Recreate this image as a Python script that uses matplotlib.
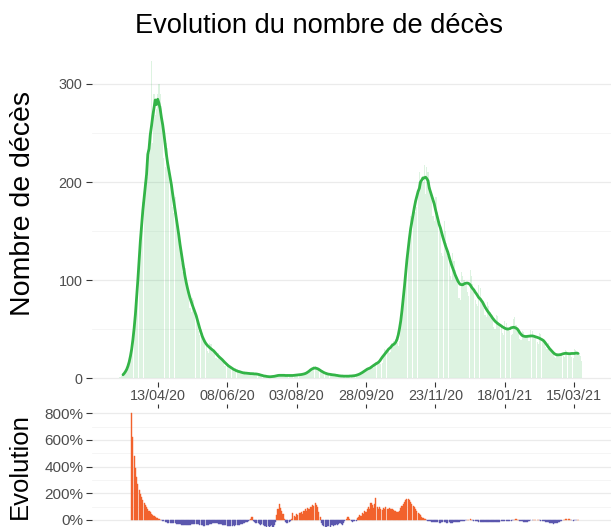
import numpy as np
import pandas as pd
import matplotlib
matplotlib.use("Agg")
import matplotlib.pyplot as plt
import matplotlib.dates as mdates

plt.rcParams['font.family'] = ['Liberation Sans', 'DejaVu Sans']

# ---------------- data ----------------
title = "Evolution du nombre de décès"
ylabel_top = "Nombre de décès"
ylabel_bottom = "Evolution"

# daily deaths, one row per week, starting Friday 2020-03-13
deaths_start = "2020-03-13"
deaths = [
    1, 1, 2, 3, 4, 6, 8,
    11, 14, 18, 26, 34, 47, 58,
    80, 96, 115, 148, 160, 180, 200,
    190, 205, 205, 230, 245, 323, 240,
    290, 268, 275, 290, 300, 290, 278,
    262, 225, 215, 240, 235, 215, 205,
    200, 175, 168, 185, 170, 158, 145,
    138, 118, 108, 118, 112, 98, 90,
    85, 72, 68, 82, 80, 70, 64,
    60, 48, 44, 50, 46, 40, 36,
    34, 28, 26, 36, 35, 31, 28,
    26, 21, 20, 26, 24, 21, 19,
    18, 13, 12, 16, 15, 12, 11,
    10, 7, 6, 10, 9, 7, 7,
    6, 4, 4, 7, 6, 5, 5,
    6, 3, 3, 6, 5, 5, 4,
    5, 3, 2, 4, 3, 2, 2,
    2, 1, 1, 2, 2, 1, 2,
    3, 2, 2, 4, 4, 3, 3,
    3, 2, 2, 4, 3, 3, 3,
    3, 2, 2, 4, 4, 4, 4,
    4, 3, 3, 5, 6, 6, 7,
    8, 9, 9, 13, 12, 11, 10,
    9, 7, 6, 8, 6, 5, 5,
    4, 3, 3, 5, 4, 4, 3,
    3, 2, 2, 3, 3, 2, 2,
    2, 2, 1, 3, 3, 2, 2,
    3, 2, 2, 4, 4, 4, 5,
    6, 6, 7, 9, 10, 10, 11,
    12, 10, 10, 15, 17, 16, 17,
    18, 15, 16, 24, 30, 29, 28,
    30, 26, 27, 36, 38, 37, 40,
    36, 33, 38, 55, 70, 82, 95,
    110, 118, 125, 150, 165, 160, 172,
    178, 170, 175, 200, 210, 195, 205,
    200, 217, 188, 215, 210, 200, 195,
    185, 165, 160, 185, 185, 170, 155,
    150, 128, 125, 160, 150, 138, 125,
    122, 104, 100, 128, 120, 110, 100,
    96, 82, 80, 108, 104, 100, 98,
    95, 88, 84, 110, 104, 96, 90,
    80, 76, 74, 95, 92, 82, 76,
    72, 64, 62, 78, 74, 68, 62,
    60, 52, 50, 64, 63, 57, 54,
    52, 46, 44, 58, 56, 52, 49,
    48, 44, 45, 60, 62, 54, 51,
    46, 40, 39, 48, 47, 43, 42,
    42, 38, 38, 49, 48, 44, 43,
    42, 37, 35, 46, 45, 41, 39,
    37, 32, 30, 36, 33, 29, 27,
    25, 22, 21, 26, 25, 24, 24,
    25, 23, 22, 29, 28, 26, 25,
    24, 22, 21, 30, 29, 26, 25,
    26, 23, 18,
]

# weekly evolution (%), one row per week, starting Monday 2020-03-23
evolution_start = "2020-03-23"
evolution_pct = [
    800, 620, 480, 390, 320, 268, 228,
    196, 170, 148, 128, 111, 96, 83,
    71, 59, 48, 39, 31, 24, 18,
    12, 7, 3, -2, -5, -9, -13,
    -16, -19, -21, -22, -23, -24, -25,
    -26, -28, -29, -31, -32, -34, -35,
    -37, -37, -36, -37, -36, -34, -32,
    -30, -29, -28, -29, -30, -33, -36,
    -39, -41, -42, -42, -41, -38, -35,
    -32, -28, -25, -24, -23, -24, -26,
    -29, -30, -32, -34, -35, -38, -40,
    -42, -43, -44, -43, -42, -41, -42,
    -41, -40, -38, -36, -33, -29, -25,
    -20, -16, -12, -8, -3, 4, 25,
    -5, -12, -20, -25, -22, -28, -35,
    -30, -38, -42, -45, -50, -48, -52,
    -45, -40, -50, -35, -15, 40, 80,
    117, 90, 70, 45, 10, -12, -20,
    -25, -15, -8, 10, 50, 30, 20,
    45, 35, 55, 50, 60, 45, 70,
    80, 65, 90, 85, 95, 100, 110,
    105, 130, 115, 95, 60, 20, -20,
    -35, -45, -50, -52, -48, -45, -50,
    -40, -38, -42, -35, -30, -38, -32,
    -25, -30, -35, -20, -10, 5, 20,
    25, 8, -8, -12, -10, -5, -8,
    15, 25, 40, 30, 50, 45, 70,
    60, 85, 100, 80, 130, 110, 90,
    120, 165, 100, 85, 95, 80, 75,
    90, 85, 95, 80, 85, 90, 80,
    85, 75, 70, 65, 60, 58, 70,
    90, 105, 120, 135, 148, 155, 160,
    150, 135, 120, 108, 95, 82, 68,
    55, 44, 34, 25, 17, 10, 4,
    -2, -6, -9, -11, -13, -14, -15,
    -16, -17, -18, -19, -19, -18, -17,
    -17, -18, -19, -19, -18, -19, -20,
    -20, -18, -17, -16, -15, -13, -11,
    -9, -7, -5, -3, -1, 2, 3,
    4, 1, -3, -6, -8, -10, -11,
    -12, -13, -13, -14, -14, -15, -15,
    -16, -16, -16, -16, -17, -16, -15,
    -15, -14, -13, -12, -11, -10, -9,
    -9, -9, -8, -7, -6, -4, -2,
    -1, 2, 4, 3, 1, -4, -8,
    -11, -13, -14, -15, -12, -8, -4,
    -2, -1, 0, 1, 2, 2, 1,
    -2, -4, -6, -8, -10, -12, -14,
    -17, -20, -24, -26, -27, -26, -24,
    -21, -18, -14, -9, -4, 0, 3,
    6, 8, 9, 6, 2, -2, -4,
    -3, -2, -1, 1,
]

tick_dates = ["2020-04-13", "2020-06-08", "2020-08-03", "2020-09-28",
              "2020-11-23", "2021-01-18", "2021-03-15"]
tick_labels = ["13/04/20", "08/06/20", "03/08/20", "28/09/20",
               "23/11/20", "18/01/21", "15/03/21"]
y_ticks_top = [0, 100, 200, 300]
y_minor_top = [50, 150, 250]
y_ticks_bottom = [0, 200, 400, 600, 800]
y_minor_bottom = [100, 300, 500, 700]

# ---------------- series ----------------
daily = pd.Series(deaths, index=pd.date_range(deaths_start, periods=len(deaths), freq="D"))
smooth = daily.rolling(7, center=True).mean().dropna()
evo = pd.Series(evolution_pct,
                index=pd.date_range(evolution_start, periods=len(evolution_pct), freq="D"))

# ---------------- layout ----------------
W, H = 614, 527
fig = plt.figure(figsize=(W / 100, H / 100), dpi=100)


def rect(left, top, right, bottom):
    return [left / W, 1 - bottom / H, (right - left) / W, (bottom - top) / H]


ax1 = fig.add_axes(rect(92, 58, 611, 381.7))
ax2 = fig.add_axes(rect(92, 407.7, 611, 532.6))

xmin = mdates.date2num(pd.Timestamp("2020-02-20"))
xmax = mdates.date2num(pd.Timestamp("2021-04-13 14:00"))
tick_nums = [mdates.date2num(pd.Timestamp(d)) for d in tick_dates]

grid_major = "#EBEBEB"
grid_minor = "#F4F4F4"
tick_col = "#333333"
lab_col = "#4D4D4D"

# ---- top panel ----
ax1.bar(daily.index, daily.values, width=0.9, color="#2DB84A", alpha=0.16,
        linewidth=0, zorder=2)
ax1.plot(smooth.index, smooth.values, color="#33B447", lw=2.0, zorder=3,
         solid_capstyle="round")
ax1.set_xlim(xmin, xmax)
ax1.set_ylim(-3.5, 326.5)
ax1.set_yticks(y_ticks_top)
ax1.set_yticks(y_minor_top, minor=True)
ax1.set_xticks(tick_nums)
ax1.set_xticklabels(tick_labels)
ax1.grid(axis="y", which="major", color=grid_major, lw=0.9, zorder=0)
ax1.grid(axis="y", which="minor", color=grid_minor, lw=0.6, zorder=0)
ax1.set_axisbelow(True)
for sp in ax1.spines.values():
    sp.set_visible(False)
ax1.tick_params(axis="y", which="major", length=4, width=0.8, color=tick_col,
                labelsize=10.4, labelcolor=lab_col, pad=3)
ax1.tick_params(axis="x", which="major", length=3.5, width=0.8, color=tick_col,
                labelsize=10.4, labelcolor=lab_col, pad=2)
ax1.tick_params(which="minor", length=0)

# ---- bottom panel ----
colors = ["#F2622C" if v >= 0 else "#5B57AE" for v in evo.values]
ax2.bar(evo.index, evo.values, width=0.9, color=colors, edgecolor=colors,
        linewidth=0.3, zorder=2)
ax2.set_xlim(xmin, xmax)
ax2.set_ylim(-94.5, 841.8)
ax2.set_yticks(y_ticks_bottom)
ax2.set_yticklabels([f"{v}%" for v in y_ticks_bottom])
ax2.set_yticks(y_minor_bottom, minor=True)
ax2.xaxis.tick_top()
ax2.set_xticks(tick_nums)
ax2.set_xticklabels([])
ax2.grid(axis="y", which="major", color=grid_major, lw=0.9, zorder=0)
ax2.grid(axis="y", which="minor", color=grid_minor, lw=0.6, zorder=0)
ax2.set_axisbelow(True)
for sp in ax2.spines.values():
    sp.set_visible(False)
ax2.tick_params(axis="y", which="major", length=4, width=0.8, color=tick_col,
                labelsize=11, labelcolor=lab_col, pad=2)
ax2.tick_params(axis="x", which="major", length=3, width=0.8, color=tick_col,
                top=True, bottom=False, labeltop=False, labelbottom=False)
ax2.tick_params(which="minor", length=0)

# ---- texts ----
fig.text(319 / W, 1 - 26 / H, title, ha="center", va="center", fontsize=19.6,
         color="black")
fig.text(23 / W, 1 - 203 / H, ylabel_top, ha="center", va="center", rotation=90,
         fontsize=20.5, color="black")
fig.text(20 / W, 1 - 466 / H, ylabel_bottom, ha="center", va="center", rotation=90,
         fontsize=18.5, color="black")

fig.savefig("out.png", dpi=100)
